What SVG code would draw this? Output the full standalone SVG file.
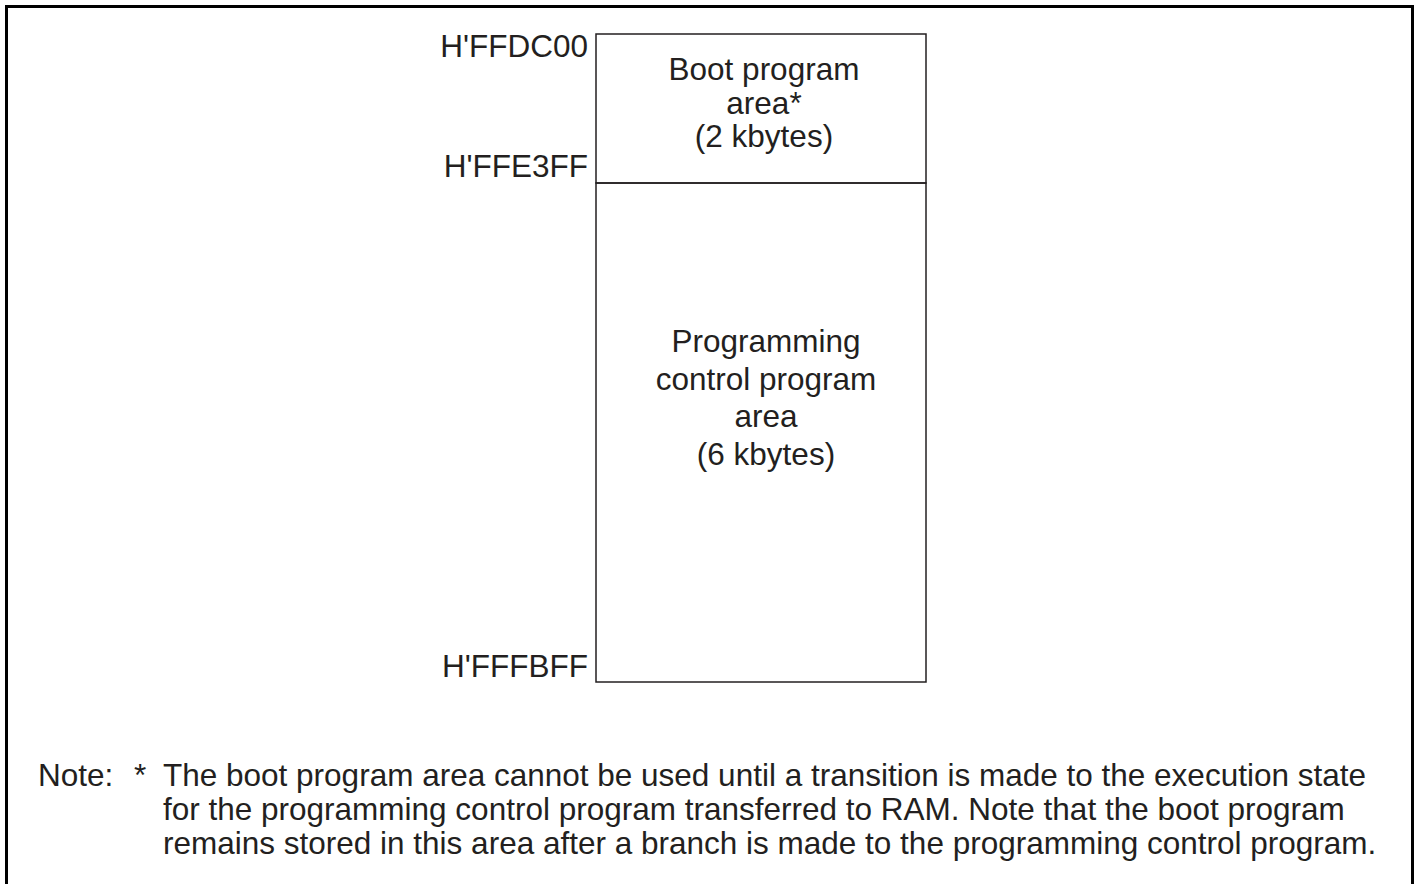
<svg xmlns="http://www.w3.org/2000/svg" width="1417" height="884" viewBox="0 0 1417 884">
<style>
text{font-family:"Liberation Sans",Arial,sans-serif;font-size:31.5px;fill:#231f20}
.addr{text-anchor:end}
.mid{text-anchor:middle}
.box{fill:none;stroke:#231f20;stroke-width:1.5}
</style>
<rect x="0" y="0" width="1417" height="884" fill="#fff"/>
<path d="M6.5 900 V6.5 H1412.5 V900" fill="none" stroke="#000" stroke-width="3"/>
<g id="addr-top"><text class="addr" x="588" y="57">H'FFDC00</text></g>
<g id="addr-mid"><text class="addr" x="588" y="177">H'FFE3FF</text></g>
<g id="addr-bot"><text class="addr" x="588" y="677">H'FFFBFF</text></g>
<g id="boot-area">
<rect class="box" x="596" y="34" width="330" height="149"/>
<text class="mid" x="764" y="80">Boot program</text>
<text class="mid" x="764" y="114">area*</text>
<text class="mid" x="764" y="147">(2 kbytes)</text>
</g>
<g id="control-area">
<rect class="box" x="596" y="183" width="330" height="499"/>
<text class="mid" x="766" y="352">Programming</text>
<text class="mid" x="766" y="390">control program</text>
<text class="mid" x="766" y="427">area</text>
<text class="mid" x="766" y="465">(6 kbytes)</text>
</g>
<g id="connectors"></g>
<g id="note">
<text x="38" y="786">Note:</text>
<text x="134" y="786">*</text>
<text x="163" y="786">The boot program area cannot be used until a transition is made to the execution state</text>
<text x="163" y="820">for the programming control program transferred to RAM. Note that the boot program</text>
<text x="163" y="854">remains stored in this area after a branch is made to the programming control program.</text>
</g>
</svg>
